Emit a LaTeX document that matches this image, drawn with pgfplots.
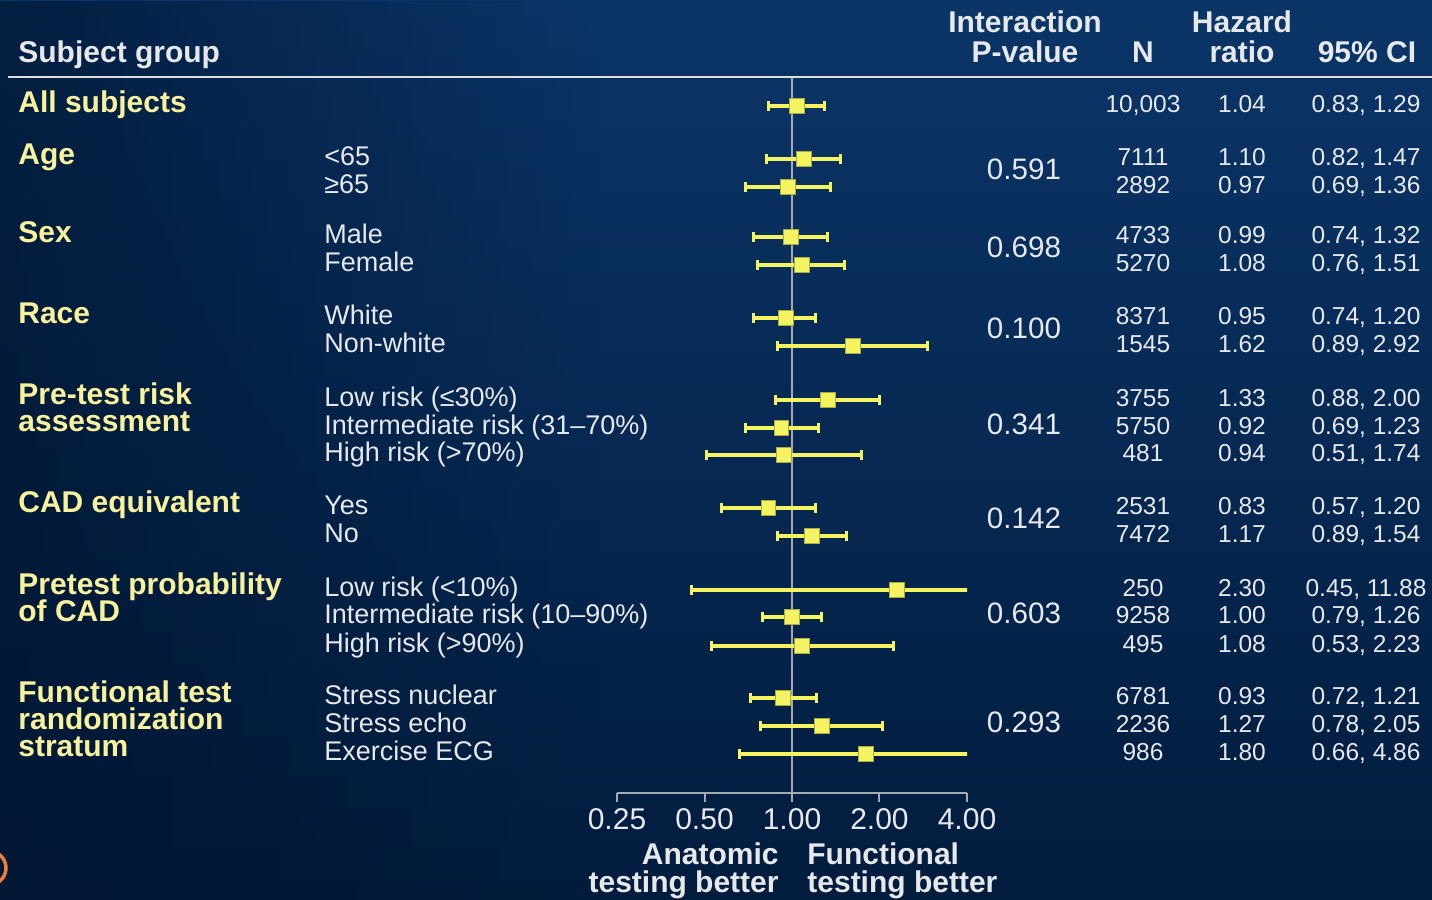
\documentclass[border=0pt]{standalone}
\usepackage{fontspec}
\setmainfont{Liberation Sans}
\usepackage{pgfplots}
\pgfplotsset{compat=1.18}
\usepackage{pgfplotstable}
\usetikzlibrary{fadings}

\definecolor{bgtop}{HTML}{0B3568}
\definecolor{bgbot}{HTML}{021C3D}
\definecolor{bgleft}{HTML}{011530}
\definecolor{grp}{HTML}{F8F29C}
\definecolor{txt}{HTML}{E6E8EA}
\definecolor{ylw}{HTML}{F4F462}
\definecolor{axgray}{HTML}{A4AAB2}
\definecolor{logo}{HTML}{E8803A}

\newcommand{\hdrf}{\fontsize{15pt}{18pt}\selectfont\bfseries}
\newcommand{\grpf}{\fontsize{15pt}{18pt}\selectfont\bfseries}
\newcommand{\subf}{\fontsize{13.5pt}{16pt}\selectfont}
\newcommand{\numf}{\fontsize{12.25pt}{15pt}\selectfont}
\newcommand{\pf}{\fontsize{14.8pt}{18pt}\selectfont}
\newcommand{\tickf}{\fontsize{15pt}{18pt}\selectfont}

% y = 900 - pixel row of marker centre
\pgfplotstableread{
y   hr   lo   hi
794 1.04 0.83 1.29
741 1.10 0.82 1.47
713 0.97 0.69 1.36
663 0.99 0.74 1.32
635 1.08 0.76 1.51
582 0.95 0.74 1.20
554 1.62 0.89 2.92
500 1.33 0.88 2.00
472 0.92 0.69 1.23
445 0.94 0.51 1.74
392 0.83 0.57 1.20
364 1.17 0.89 1.54
310 2.30 0.45 11.88
283 1.00 0.79 1.26
254 1.08 0.53 2.23
202 0.93 0.72 1.21
174 1.27 0.78 2.05
146 1.80 0.66 4.86
}\datatab

\begin{document}
\begin{tikzpicture}
\begin{scope}[x=0.5pt,y=0.5pt]
\useasboundingbox (0,0) rectangle (1432,900);
\shade[top color=bgtop, bottom color=bgbot] (0,0) rectangle (1432,900);
\fill[bgleft, path fading=east, fill opacity=0.7] (0,0) rectangle (600,900);
\draw[logo, line width=1.75pt] (-11,32) circle (17);

% header
\draw[txt!90!gray, line width=1pt] (8,900-77) -- (1432,900-77);
\node[anchor=base west, inner sep=0, text=txt, font=\hdrf] at (18,900-63) {Subject group};
\node[anchor=base, inner sep=0, text=txt, font=\hdrf] at (1025,900-33) {Interaction};
\node[anchor=base, inner sep=0, text=txt, font=\hdrf] at (1025,900-63) {P-value};
\node[anchor=base, inner sep=0, text=txt, font=\hdrf] at (1143,900-63) {N};
\node[anchor=base, inner sep=0, text=txt, font=\hdrf] at (1242,900-33) {Hazard};
\node[anchor=base, inner sep=0, text=txt, font=\hdrf] at (1242,900-63) {ratio};
\node[anchor=base, inner sep=0, text=txt, font=\hdrf] at (1367,900-63) {95\% CI};

% group labels
\begin{scope}[every node/.style={anchor=base west, inner sep=0, text=grp, font=\grpf}]
\node at (18,900-113) {All subjects};
\node at (18,900-165) {Age};
\node at (18,900-243) {Sex};
\node at (18,900-324) {Race};
\node at (18,900-405) {Pre-test risk};
\node at (18,900-432) {assessment};
\node at (18,900-513) {CAD equivalent};
\node at (18,900-595) {Pretest probability};
\node at (18,900-622) {of CAD};
\node at (18,900-703) {Functional test};
\node at (18,900-730) {randomization};
\node at (18,900-757) {stratum};
\end{scope}

% subgroup labels
\begin{scope}[every node/.style={anchor=base west, inner sep=0, text=txt, font=\subf}]
\node at (324,900-166) {<65};
\node at (324,900-194) {≥65};
\node at (324,900-244) {Male};
\node at (324,900-272) {Female};
\node at (324,900-325) {White};
\node at (324,900-353) {Non-white};
\node at (324,900-407) {Low risk (≤30\%)};
\node at (324,900-435) {Intermediate risk (31–70\%)};
\node at (324,900-462) {High risk (>70\%)};
\node at (324,900-515) {Yes};
\node at (324,900-543) {No};
\node at (324,900-597) {Low risk (<10\%)};
\node at (324,900-624) {Intermediate risk (10–90\%)};
\node at (324,900-653) {High risk (>90\%)};
\node at (324,900-705) {Stress nuclear};
\node at (324,900-733) {Stress echo};
\node at (324,900-761) {Exercise ECG};
\end{scope}

% p-values
\begin{scope}[every node/.style={anchor=base, inner sep=0, text=txt, font=\pf}]
\node at (1024,900-180) {0.591};
\node at (1024,900-258) {0.698};
\node at (1024,900-339) {0.100};
\node at (1024,900-435) {0.341};
\node at (1024,900-529) {0.142};
\node at (1024,900-624) {0.603};
\node at (1024,900-733) {0.293};
\end{scope}

% N, HR, CI columns
\begin{scope}[every node/.style={anchor=base, inner sep=0, text=txt, font=\numf}]
\foreach \b/\n/\h/\c in {113/{10,003}/1.04/{0.83, 1.29},
  166/7111/1.10/{0.82, 1.47}, 194/2892/0.97/{0.69, 1.36},
  244/4733/0.99/{0.74, 1.32}, 272/5270/1.08/{0.76, 1.51},
  325/8371/0.95/{0.74, 1.20}, 353/1545/1.62/{0.89, 2.92},
  407/3755/1.33/{0.88, 2.00}, 435/5750/0.92/{0.69, 1.23}, 462/481/0.94/{0.51, 1.74},
  515/2531/0.83/{0.57, 1.20}, 543/7472/1.17/{0.89, 1.54},
  597/250/2.30/{0.45, 11.88}, 624/9258/1.00/{0.79, 1.26}, 653/495/1.08/{0.53, 2.23},
  705/6781/0.93/{0.72, 1.21}, 733/2236/1.27/{0.78, 2.05}, 761/986/1.80/{0.66, 4.86}}{
  \node at (1143,900-\b) {\n};
  \node at (1242,900-\b) {\h};
  \node at (1366,900-\b) {\c};
}
\end{scope}

% bottom direction labels
\node[anchor=base east, inner sep=0, text=txt, font=\hdrf] at (779,900-865) {Anatomic};
\node[anchor=base east, inner sep=0, text=txt, font=\hdrf] at (779,900-893) {testing better};
\node[anchor=base west, inner sep=0, text=txt, font=\hdrf] at (807,900-865) {Functional};
\node[anchor=base west, inner sep=0, text=txt, font=\hdrf] at (807,900-893) {testing better};
\end{scope}

\begin{axis}[
  at={(308.5pt,53.5pt)}, anchor=south west,
  scale only axis, width=175pt, height=357.5pt,
  xmode=log, log basis x=2, xmin=0.25, xmax=4,
  ymin=107, ymax=822,
  axis x line*=bottom, axis y line=none,
  axis line style={axgray, line width=1pt},
  xtick={0.25,0.5,1,2,4},
  xticklabels={0.25,0.50,1.00,2.00,4.00},
  xtick align=outside, major tick length=4.5pt,
  every tick/.style={axgray, line width=1pt},
  xticklabel style={font=\tickf, text=txt, anchor=base, yshift=-14pt},
  ytick=\empty,
  clip=true,
]
\draw[axgray, line width=1.1pt] (axis cs:1,107) -- (axis cs:1,822);
\addplot[only marks, mark=none,
  error bars/.cd, x dir=both, x explicit, error mark=|,
  error bar style={draw=ylw, line width=1.75pt},
  error mark options={draw=ylw, line width=1.5pt, mark size=2.3pt}]
  table[x=hr, y=y, x error plus expr=\thisrow{hi}-\thisrow{hr},
        x error minus expr=\thisrow{hr}-\thisrow{lo}] {\datatab};
\addplot[only marks, mark=square*, mark size=3.7pt,
  mark options={fill=ylw, draw=ylw!70!black, line width=0.4pt}]
  table[x=hr, y=y] {\datatab};
\end{axis}
\end{tikzpicture}
\end{document}
